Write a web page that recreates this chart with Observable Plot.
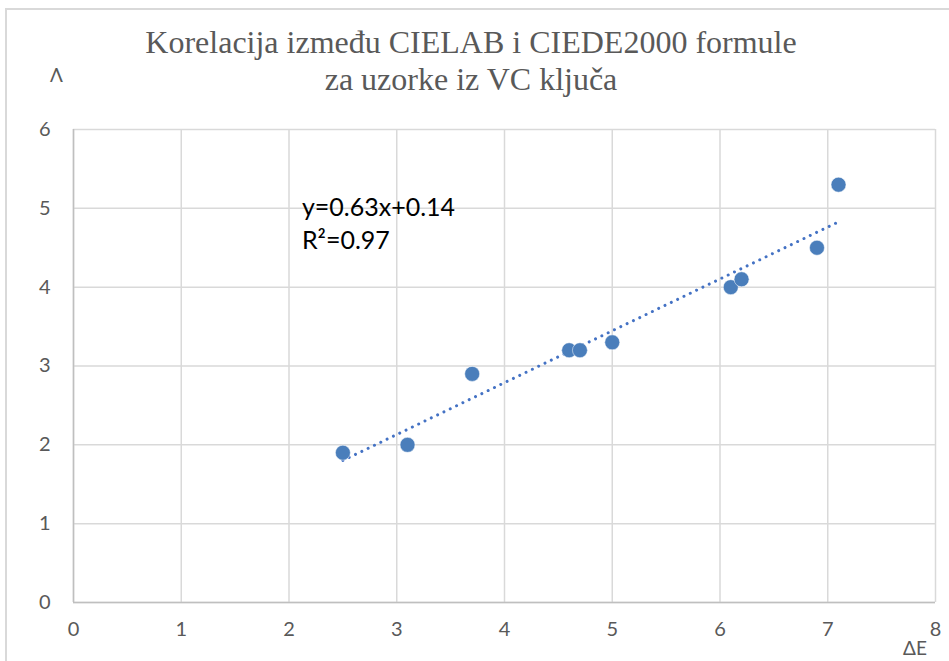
<!DOCTYPE html>
<html>
<head>
<meta charset="utf-8">
<script src="https://cdn.jsdelivr.net/npm/d3@7"></script>
<script src="https://cdn.jsdelivr.net/npm/@observablehq/plot@0.6"></script>
<style>
  html, body { margin: 0; padding: 0; background: #fff; overflow: hidden; }
  #wrap { position: relative; width: 949px; height: 661px; overflow: hidden; }
  #frame { position: absolute; left: 5px; top: 8px; width: 1100px; height: 800px; border: 2px solid #d9d9d9; box-sizing: border-box; }
  #title { position: absolute; left: 0; width: 942px; top: 24px; text-align: center; font-family: "Liberation Serif", "Times New Roman", serif; font-size: 32px; line-height: 37px; color: #595959; }
  #ylab { position: absolute; left: 50px; top: 63px; font-family: "Lato", sans-serif; font-size: 19px; color: #595959; }
  #xlab { position: absolute; left: 903px; top: 636px; font-family: "Lato", sans-serif; font-size: 19px; color: #595959; }
  #chart { position: absolute; left: 0; top: 0; }
</style>
</head>
<body>
<div id="wrap">
  <div id="frame"></div>
  <div id="chart"></div>
  <div id="title">Korelacija između CIELAB i CIEDE2000 formule<br>za uzorke iz VC ključa</div>
  <div id="ylab">Λ</div>
  <div id="xlab">ΔE</div>
</div>
<script>
const deltaE = [2.5, 3.1, 3.7, 4.6, 4.7, 5.0, 6.1, 6.2, 6.9, 7.1];
const deltaE00 = [1.9, 2.0, 2.9, 3.2, 3.2, 3.3, 4.0, 4.1, 4.5, 5.3];
const xTicks = [0, 1, 2, 3, 4, 5, 6, 7, 8];
const yTicks = [0, 1, 2, 3, 4, 5, 6];
const eqLabels = ["y=0.63x+0.14", "R²=0.97"];
const eqX = [2.12, 2.12];
const eqY = [5.0, 4.58];

const data = deltaE.map((x, i) => ({x, y: deltaE00[i]}));
const eqData = eqLabels.map((t, i) => ({t, x: eqX[i], y: eqY[i]}));

const chart = Plot.plot({
  width: 949,
  height: 661,
  marginLeft: 73,
  marginRight: 14,
  marginTop: 129,
  marginBottom: 59,
  style: {fontFamily: "Lato, sans-serif", fontSize: "20px", color: "#595959", background: "transparent"},
  x: {domain: [0, 8], label: null},
  y: {domain: [0, 6], label: null},
  marks: [
    Plot.gridX(xTicks, {stroke: "#d9d9d9", strokeOpacity: 1, strokeWidth: 1.5}),
    Plot.gridY(yTicks, {stroke: "#d9d9d9", strokeOpacity: 1, strokeWidth: 1.5}),
    Plot.ruleY([0], {stroke: "#bfbfbf", strokeWidth: 1.5}),
    Plot.ruleX([0], {stroke: "#bfbfbf", strokeWidth: 1.5}),
    Plot.axisX(xTicks, {tickSize: 0, tickPadding: 19, fontSize: 20, fill: "#595959", tickFormat: d => String(d)}),
    Plot.axisY(yTicks, {tickSize: 0, tickPadding: 23, fontSize: 20, fill: "#595959", tickFormat: d => String(d)}),
    Plot.linearRegressionY(data, {x: "x", y: "y", ci: 0, stroke: "#4472c4", strokeWidth: 3, strokeDasharray: "0.01 7", strokeLinecap: "round"}),
    Plot.dot(data, {x: "x", y: "y", r: 7.5, fill: "#4a7ebb", stroke: "#fff", strokeWidth: 0.5}),
    Plot.text(eqData, {x: "x", y: "y", text: "t", textAnchor: "start", fontSize: 25, fill: "#000", fontFamily: "Lato, sans-serif"})
  ]
});
document.getElementById("chart").appendChild(chart);
</script>
</body>
</html>
